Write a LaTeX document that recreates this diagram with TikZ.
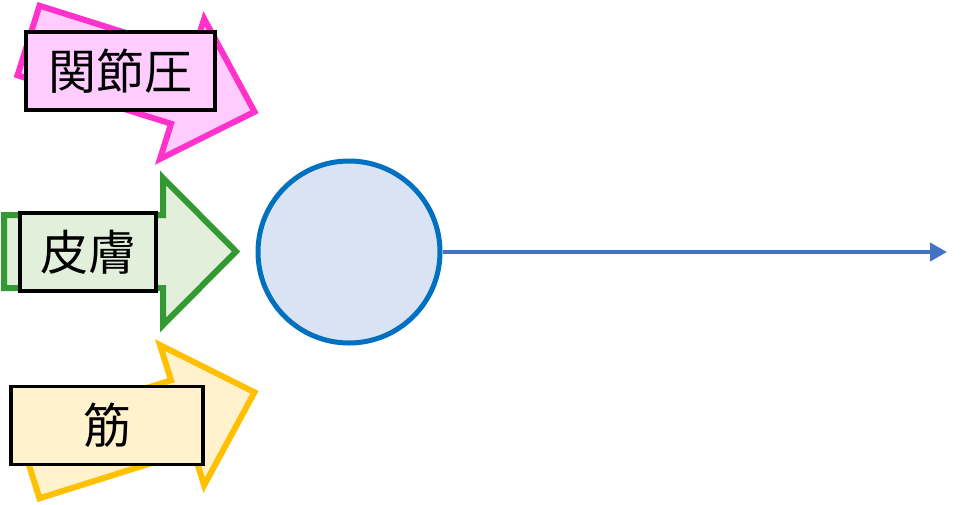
\documentclass[tikz,border=0pt]{standalone}
\usepackage{fontspec}
\newfontfamily\jpfont{Noto Sans CJK JP}
\usepackage{tikz}
\usetikzlibrary{arrows.meta}

\definecolor{jointline}{HTML}{FF33CC}
\definecolor{jointfill}{HTML}{FFCCFF}
\definecolor{skinline}{HTML}{339933}
\definecolor{skinfill}{HTML}{E2EFDA}
\definecolor{muscleline}{HTML}{FFC000}
\definecolor{musclefill}{HTML}{FFF2CC}
\definecolor{cellline}{HTML}{0070C0}
\definecolor{cellfill}{HTML}{DAE3F3}
\definecolor{outline}{HTML}{4472C4}

\begin{document}
\begin{tikzpicture}[
  x=0.75pt, y=-0.75pt,
  inarrow/.style={line width=4.5pt, line join=miter},
  tagbox/.style={draw, line width=2.4pt, inner sep=0pt, minimum height=58.5pt, font=\jpfont\fontsize{36}{42}\selectfont},
  outarrow/.style={-{Triangle[length=12.75pt, width=13.5pt]}, line width=3pt, draw=outline},
]
\useasboundingbox (0,0) rectangle (966,504);

% Joint pressure
\begin{scope}[shift={(28.5,40.5)}, rotate=-17.5]
  \draw[inarrow, draw=jointline, fill=jointfill] (0,-36.5) -- (161,-36.5) -- (161,-73.5) -- (237,0) -- (161,73.5) -- (161,36.5) -- (0,36.5) -- cycle;
\end{scope}
\node[tagbox, fill=jointfill, minimum width=141.75pt] (joint) at (120.5,71) {関節圧};

% Skin
\begin{scope}[shift={(4,251.5)}]
  \draw[inarrow, draw=skinline, fill=skinfill] (0,-36.5) -- (159,-36.5) -- (159,-73.5) -- (232,0) -- (159,73.5) -- (159,36.5) -- (0,36.5) -- cycle;
\end{scope}
\node[tagbox, fill=skinfill, minimum width=102pt] (skin) at (88,252) {皮膚};

% Muscle
\begin{scope}[shift={(28.5,463.5)}, rotate=17.5]
  \draw[inarrow, draw=muscleline, fill=musclefill] (0,-36.5) -- (161,-36.5) -- (161,-73.5) -- (237,0) -- (161,73.5) -- (161,36.5) -- (0,36.5) -- cycle;
\end{scope}
\node[tagbox, fill=musclefill, minimum width=144pt] (muscle) at (107,425.5) {筋};

% Cell and output
\node[circle, draw=cellline, fill=cellfill, line width=3.75pt, minimum size=136.5pt, inner sep=0pt] (cell) at (349,252) {};
\coordinate (out) at (947,252);
\draw[outarrow] (cell) -- (out);

\end{tikzpicture}
\end{document}
